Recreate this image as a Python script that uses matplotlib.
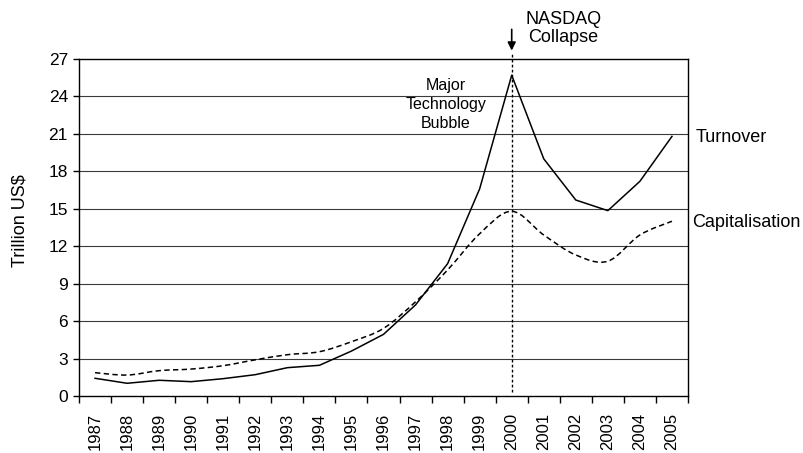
import matplotlib
matplotlib.use("Agg")
import matplotlib.pyplot as plt
import numpy as np
from matplotlib.path import Path
from matplotlib.patches import PathPatch

plt.rcParams['font.family'] = ['Liberation Sans', 'DejaVu Sans']

years = ['1987', '1988', '1989', '1990', '1991', '1992', '1993', '1994', '1995', '1996',
         '1997', '1998', '1999', '2000', '2001', '2002', '2003', '2004', '2005']
turnover = [1.42, 1.02, 1.26, 1.15, 1.39, 1.71, 2.27, 2.46, 3.6, 4.94,
            7.3, 10.6, 16.6, 25.7, 19.0, 15.7, 14.85, 17.2, 20.8]
capitalisation = [1.87, 1.68, 2.03, 2.16, 2.43, 2.9, 3.31, 3.55, 4.35, 5.42,
                  7.55, 10.1, 13.0, 14.8, 12.9, 11.3, 10.8, 12.9, 14.0]
yticks = [0, 3, 6, 9, 12, 15, 18, 21, 24, 27]

fig = plt.figure(figsize=(8.04, 4.53), dpi=100)
ax = fig.add_axes([0.0983, 0.1258, 0.7574, 0.744])

x = np.arange(len(years))

# grid
for v in yticks[1:-1]:
    ax.axhline(v, color='#3a3a3a', lw=0.8, zorder=1)

# turnover: straight segments
ax.plot(x, turnover, color='black', lw=1.1, zorder=3)

# capitalisation: smoothed (Catmull-Rom as cubic Bezier)
P = np.column_stack([x, capitalisation]).astype(float)
verts = [tuple(P[0])]
codes = [Path.MOVETO]
n = len(P)
for i in range(n - 1):
    p0 = P[i - 1] if i > 0 else P[i]
    p1 = P[i]
    p2 = P[i + 1]
    p3 = P[i + 2] if i + 2 < n else P[i + 1]
    c1 = p1 + (p2 - p0) / 6.0
    c2 = p2 - (p3 - p1) / 6.0
    verts += [tuple(c1), tuple(c2), tuple(p2)]
    codes += [Path.CURVE4, Path.CURVE4, Path.CURVE4]
patch = PathPatch(Path(verts, codes), facecolor='none', edgecolor='black', lw=1.1,
                  linestyle=(0, (3.5, 2.2)), zorder=3)
ax.add_patch(patch)

# vertical dotted line at 2000
i2000 = years.index('2000')
ax.plot([i2000, i2000], [0.3, 27.5], color='black', lw=1.0, linestyle=(0, (2, 1.6)),
        zorder=2, clip_on=False)

ax.set_xlim(-0.5, len(years) - 0.5)
ax.set_ylim(0, 27)

ax.set_yticks(yticks)
ax.set_yticklabels([str(v) for v in yticks], fontsize=12.5)
ax.tick_params(axis='y', direction='out', length=4, width=1, pad=4)

ax.set_xticks(x)
ax.set_xticklabels(years, rotation=90, fontsize=12)
ax.set_xticks(np.arange(-0.5, len(years)), minor=True)
ax.tick_params(axis='x', which='major', length=0, pad=12)
ax.tick_params(axis='x', which='minor', direction='out', length=5, width=1)

for s in ax.spines.values():
    s.set_color('black')
    s.set_linewidth(1.0)

ax.set_ylabel('Trillion US$', fontsize=13, labelpad=8)
ax.yaxis.set_label_coords(-0.083, 0.52)

# annotations
ax.text(len(years) - 0.5 + 0.25, turnover[-1] - 0.1, 'Turnover', fontsize=13,
        va='center', ha='left', clip_on=False)
ax.text(len(years) - 0.5 + 0.12, capitalisation[-1] - 0.1, 'Capitalisation', fontsize=13,
        va='center', ha='left', clip_on=False)
ax.text(10.95, 25.45, 'Major\nTechnology\nBubble', fontsize=11.5, ha='center', va='top',
        linespacing=1.32, zorder=4)
ax.text(i2000 + 1.62, 29.45, 'NASDAQ\nCollapse', fontsize=13, ha='center', va='center',
        linespacing=1.05, clip_on=False)
ax.annotate('', xy=(i2000, 27.45), xytext=(i2000, 29.6),
            arrowprops=dict(arrowstyle='-|>', color='black', lw=1.2, mutation_scale=12),
            annotation_clip=False)

fig.savefig('out.png', dpi=100)
